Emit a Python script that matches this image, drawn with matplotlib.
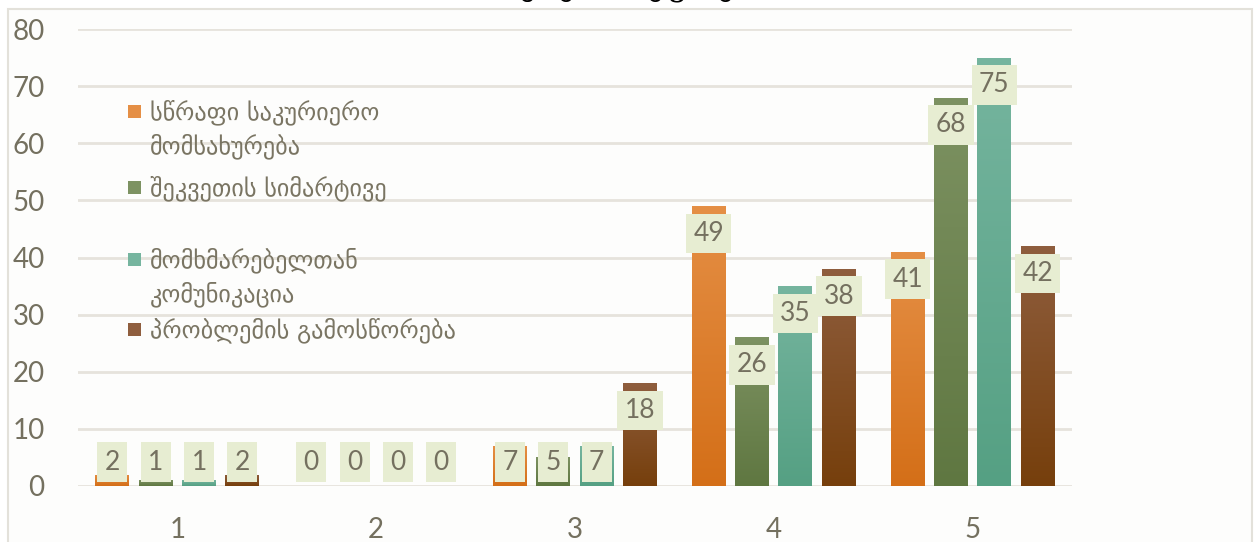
import numpy as np
import matplotlib
matplotlib.use("Agg")
import matplotlib.pyplot as plt
from matplotlib.patches import Rectangle
from matplotlib.colors import LinearSegmentedColormap

categories = ["1", "2", "3", "4", "5"]
series_names = [
    "სწრაფი საკურიერო\nმომსახურება",
    "შეკვეთის სიმარტივე",
    "მომხმარებელთან\nკომუნიკაცია",
    "პრობლემის გამოსწორება",
]
fast_courier = [2, 0, 7, 49, 41]
order_ease = [1, 0, 5, 26, 68]
customer_comm = [1, 0, 7, 35, 75]
problem_fix = [2, 0, 18, 38, 42]
series_values = [fast_courier, order_ease, customer_comm, problem_fix]
yticks = [0, 10, 20, 30, 40, 50, 60, 70, 80]
title = "მომსახურების შეფასება"

top_colors = ["#e58f45", "#7d9262", "#76b59f", "#8f5e3e"]
bottom_colors = ["#d46f18", "#5f7741", "#55a083", "#763f0c"]
base_colors = ["#e07f30", "#718853", "#65ab91", "#83502a"]

W, H = 1255, 542
fig = plt.figure(figsize=(W / 100, H / 100), dpi=100)
fig.patch.set_facecolor("white")

# outer chart area frame
fig.patches.append(Rectangle((8 / W, -0.01), (1252 - 8) / W, 1 - 9 / H + 0.01,
                             transform=fig.transFigure, facecolor="#fdfdfc",
                             edgecolor="#e3e1da", linewidth=1.5, zorder=-5))

ax = fig.add_axes([78 / W, 56 / H, (1072 - 78) / W, (486 - 29) / H])
ax.set_facecolor("none")
for s in ax.spines.values():
    s.set_visible(False)

x = np.arange(len(categories))
bw = 0.171
step = 0.218
tick_color = "#74705f"
num_font = ["Lato", "DejaVu Sans"]

for i, vals in enumerate(series_values):
    pos = x + (i - 1.5) * step
    bars = ax.bar(pos, vals, width=bw, color=base_colors[i], zorder=2,
                  label=series_names[i].replace("\n", " "))
    cmap = LinearSegmentedColormap.from_list("g%d" % i, [bottom_colors[i], top_colors[i]])
    for b, v in zip(bars, vals):
        if v <= 0:
            continue
        x0, y0 = b.get_x(), b.get_y()
        grad = np.linspace(0, 1, 256).reshape(-1, 1)
        im = ax.imshow(grad, extent=[x0, x0 + b.get_width(), y0, y0 + b.get_height()],
                       origin="lower", aspect="auto", cmap=cmap, zorder=2.1)
        im.set_clip_path(b)
    for p, v in zip(pos, vals):
        yc = max(v - 4.8, 4.2)
        ax.text(p, yc, str(v), ha="center", va="center", fontsize=19,
                family=num_font, color=tick_color, zorder=4,
                bbox=dict(boxstyle="square,pad=0.28", facecolor="#e7edd2", edgecolor="none"))

ax.set_xlim(-0.5, 4.5)
ax.set_ylim(0, 80)
ax.set_yticks(yticks)
ax.set_xticks(x)
ax.set_xticklabels(categories)
ax.yaxis.grid(True, color="#e6e3dc", linewidth=2, zorder=0)
ax.set_axisbelow(True)
ax.tick_params(axis="both", length=0, labelsize=20, labelcolor=tick_color)
ax.tick_params(axis="y", pad=24)
ax.tick_params(axis="x", pad=22)
for lab in ax.get_xticklabels() + ax.get_yticklabels():
    lab.set_family(num_font)

# legend drawn manually (uneven Excel-style spacing)
leg_rows = [(111, 0), (187, 1), (259, 2), (329, 3)]
for yy, i in leg_rows:
    fig.patches.append(Rectangle((128 / W, 1 - (yy + 6.5) / H), 13 / W, 13 / H,
                                 transform=fig.transFigure, facecolor=top_colors[i],
                                 edgecolor="none", zorder=5))
    fig.text(150 / W, 1 - (yy - 12) / H, series_names[i], ha="left", va="top",
             fontsize=17.5, family=["DejaVu Sans"], color="#7a7563",
             linespacing=1.45, zorder=6)

# title (mostly cut off at the top, as in the source image)
fig.text(588 / W, 1 + 13 / H, title, ha="center", va="center", fontsize=20,
         family=["DejaVu Serif", "DejaVu Sans"], color="black")

fig.savefig("out.png", dpi=100)
